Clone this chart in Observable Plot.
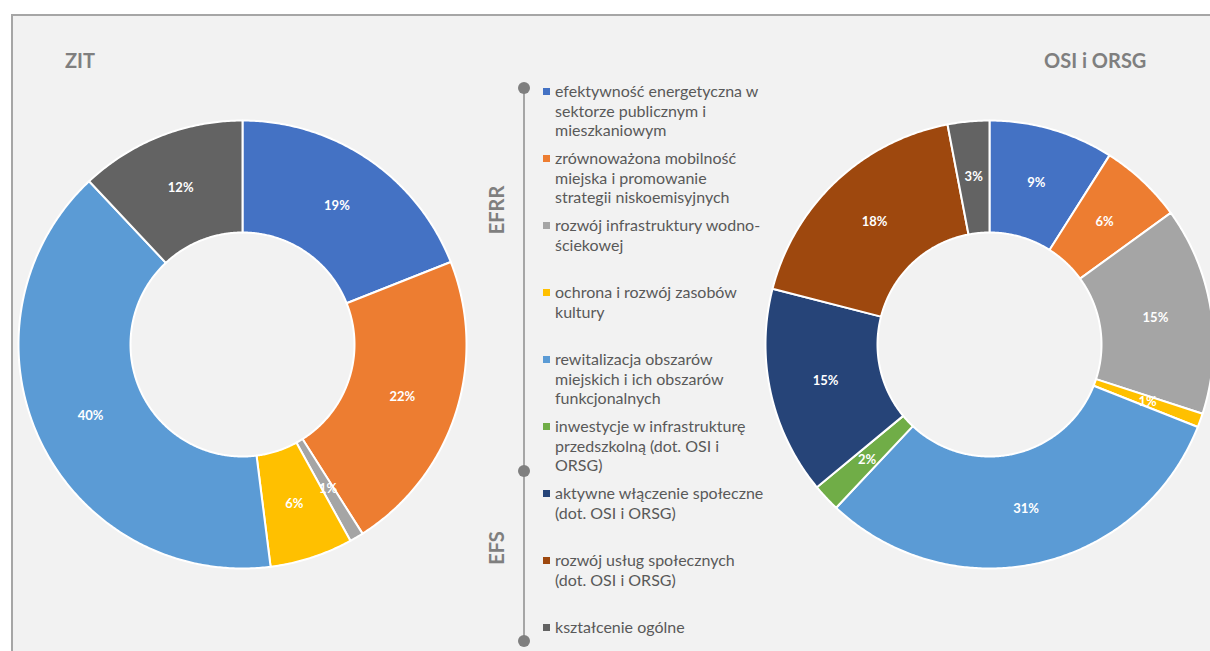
<!DOCTYPE html>
<html><head><meta charset="utf-8">
<script src="https://cdn.jsdelivr.net/npm/d3@7"></script>
<script src="https://cdn.jsdelivr.net/npm/@observablehq/plot@0.6"></script>
<style>
html,body{margin:0;padding:0;background:#fff;overflow:hidden;width:1210px;height:651px;font-family:Lato,"Open Sans",sans-serif;}
#frame{position:absolute;left:11px;top:14px;width:1230px;height:660px;border:2px solid #a6a6a6;background:#f2f2f2;box-sizing:border-box;}
.abs{position:absolute;}
.title{position:absolute;font-size:20px;font-weight:bold;color:#7f7f7f;line-height:20px;}
.leg{position:absolute;left:555px;font-size:16px;line-height:19.5px;color:#595959;white-space:nowrap;}
.mk{position:absolute;left:543px;width:7px;height:7px;}
.grp{position:absolute;font-size:20px;font-weight:bold;color:#7f7f7f;transform:translate(-50%,-50%) rotate(-90deg);white-space:nowrap;}
.dot{position:absolute;width:12px;height:12px;border-radius:50%;background:#7f7f7f;left:518px;}
</style></head>
<body>
<div id="frame"></div>
<div id="root"></div>
<script>
const categories = [
  "efektywność energetyczna w sektorze publicznym i mieszkaniowym",
  "zrównoważona mobilność miejska i promowanie strategii niskoemisyjnych",
  "rozwój infrastruktury wodno-ściekowej",
  "ochrona i rozwój zasobów kultury",
  "rewitalizacja obszarów miejskich i ich obszarów funkcjonalnych",
  "inwestycje w infrastrukturę przedszkolną (dot. OSI i ORSG)",
  "aktywne włączenie społeczne (dot. OSI i ORSG)",
  "rozwój usług społecznych (dot. OSI i ORSG)",
  "kształcenie ogólne"
];
const legendLines = [
  ["efektywność energetyczna w", "sektorze publicznym i", "mieszkaniowym"],
  ["zrównoważona mobilność", "miejska i promowanie", "strategii niskoemisyjnych"],
  ["rozwój infrastruktury wodno-", "ściekowej"],
  ["ochrona i rozwój zasobów", "kultury"],
  ["rewitalizacja obszarów", "miejskich i ich obszarów", "funkcjonalnych"],
  ["inwestycje w infrastrukturę", "przedszkolną (dot. OSI i", "ORSG)"],
  ["aktywne włączenie społeczne", "(dot. OSI i ORSG)"],
  ["rozwój usług społecznych", "(dot. OSI i ORSG)"],
  ["kształcenie ogólne"]
];
const groups = ["EFRR", "EFS"];
const colors = ["#4472c4", "#ed7d31", "#a5a5a5", "#ffc000", "#5b9bd5", "#70ad47", "#264478", "#9e480e", "#636363"];
const zitValues = [19, 22, 1, 6, 40, 0, 0, 0, 12];
const osiValues = [9, 6, 15, 1, 31, 2, 15, 18, 3];
const titles = ["ZIT", "OSI i ORSG"];

const root = document.getElementById("root");

function donut(values) {
  const total = d3.sum(values);
  const R = 224, r0 = 112, rm = (R + r0) / 2;
  let acc = 0;
  const polys = [], labels = [];
  values.forEach((v, i) => {
    if (!v) return;
    const a0 = acc / total * 2 * Math.PI;
    acc += v;
    const a1 = acc / total * 2 * Math.PI;
    const n = Math.max(2, Math.ceil((a1 - a0) / (Math.PI / 360)));
    const pts = [];
    for (let k = 0; k <= n; k++) { const t = a0 + (a1 - a0) * k / n; pts.push({cat: categories[i], x: R * Math.sin(t), y: R * Math.cos(t)}); }
    for (let k = n; k >= 0; k--) { const t = a0 + (a1 - a0) * k / n; pts.push({cat: categories[i], x: r0 * Math.sin(t), y: r0 * Math.cos(t)}); }
    pts.push({...pts[0]});
    polys.push(...pts);
    const m = (a0 + a1) / 2;
    labels.push({x: rm * Math.sin(m), y: rm * Math.cos(m), text: v + "%"});
  });
  return Plot.plot({
    width: 460, height: 460, margin: 0,
    style: {background: "transparent", overflow: "visible", maxWidth: "none"},
    x: {domain: [-230, 230], axis: null},
    y: {domain: [-230, 230], axis: null},
    color: {domain: categories, range: colors},
    marks: [
      Plot.line(polys, {x: "x", y: "y", z: "cat", fill: "cat", stroke: "white", strokeWidth: 2, strokeLinejoin: "round"}),
      Plot.text(labels, {x: "x", y: "y", text: "text", fill: "white", fontSize: 13, fontWeight: "bold", fontFamily: "Lato"})
    ]
  });
}

const p1 = donut(zitValues);
p1.style.position = "absolute"; p1.style.left = "12px"; p1.style.top = "113.5px";
root.appendChild(p1);
const p2 = donut(osiValues);
p2.style.position = "absolute"; p2.style.left = "759px"; p2.style.top = "113.5px";
root.appendChild(p2);

function add(html, cls, css) {
  const d = document.createElement("div");
  d.className = cls; d.innerHTML = html; Object.assign(d.style, css); root.appendChild(d); return d;
}
add(titles[0], "title", {left: "65px", top: "50px"});
add(titles[1], "title", {left: "1044px", top: "50px"});

// timeline
add("", "abs", {left: "523px", top: "88px", width: "2px", height: "553px", background: "#a6a6a6"});
[88, 471, 641].forEach(y => add("", "dot", {top: (y - 6) + "px"}));
add(groups[0], "grp", {left: "496px", top: "210px"});
add(groups[1], "grp", {left: "496px", top: "548px"});

legendLines.forEach((lines, i) => {
  add(lines.join("<br>"), "leg", {top: (81 + 67 * i) + "px"});
  add("", "mk", {top: (88 + 67 * i) + "px", background: colors[i]});
});
</script>
</body></html>
